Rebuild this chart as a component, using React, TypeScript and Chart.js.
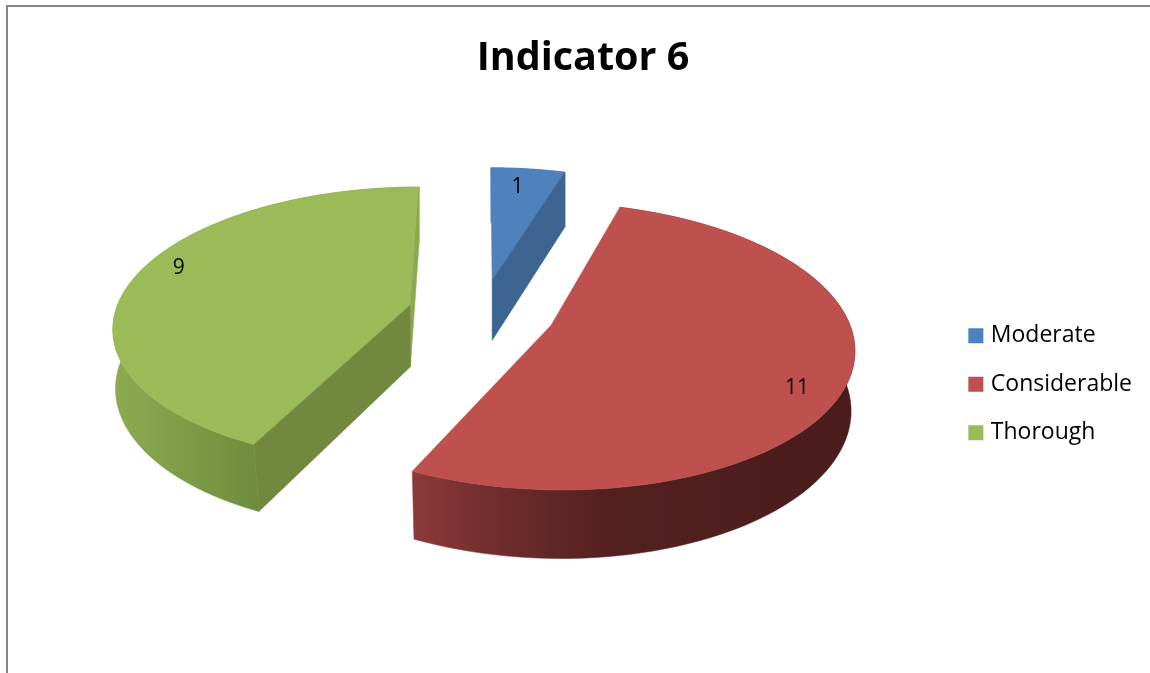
import React, { useEffect, useRef } from "react";
import { Chart, registerables } from "chart.js";

Chart.register(...registerables);

const TITLE = "Indicator 6";
const categories = ["Moderate", "Considerable", "Thorough"];
const values = [1, 11, 9];
const topColors = ["#4f81bd", "#be504e", "#9bbb59"];
const startFaceColors = [null, null, "#72883f"];
const endFaceColors = ["#3d6592", null, "#8ba94e"];
const labelRadii = [0.82, 0.866, 0.882];
const labelAngleShift = [-1.3, 7.4, 6.2];
const FONT = "'Open Sans', sans-serif";

// Perspective view of the exploded pie, in canvas pixels
const view = { cx: 457.5, cy: 307.6, a: 295, b: 137, k: 0.144, explode: 0.25 };

type Pt = [number, number];
const project = (u: number, v: number): Pt => {
  const f = 1 / (1 - view.k * v);
  return [view.cx + view.a * u * f, view.cy + view.b * v * f];
};
const lower = (u: number, v: number): Pt => {
  const [x, y] = project(u, v);
  return [view.cx + (x - view.cx) * Math.min(1, 0.995 - 0.02 * v), y + 62 + 6 * v];
};
const fillPoly = (ctx: CanvasRenderingContext2D, pts: Pt[], fill: string | CanvasGradient) => {
  ctx.beginPath();
  pts.forEach(([x, y], i) => (i ? ctx.lineTo(x, y) : ctx.moveTo(x, y)));
  ctx.closePath();
  ctx.fillStyle = fill;
  ctx.fill();
  ctx.strokeStyle = fill;
  ctx.lineWidth = 0.5;
  ctx.stroke();
};

const pie3d = {
  id: "pie3d",
  beforeDatasetsDraw(chart: any) {
    const ctx: CanvasRenderingContext2D = chart.ctx;
    const arcs = chart.getDatasetMeta(0).data;
    const rimFill = (i: number) => {
      if (i === 1) {
        const g = ctx.createLinearGradient(389, 0, 833, 0);
        g.addColorStop(0, "#8b3a39");
        g.addColorStop(0.25, "#672a29");
        g.addColorStop(0.45, "#53201f");
        g.addColorStop(1, "#4a1c1c");
        return g;
      }
      if (i === 2) {
        const g = ctx.createLinearGradient(93, 0, 233, 0);
        g.addColorStop(0, "#8cab50");
        g.addColorStop(1, "#6f8c3d");
        return g;
      }
      return topColors[i];
    };
    arcs.forEach((arc: any, i: number) => {
      const { startAngle: s, endAngle: e } = arc;
      const mid = (s + e) / 2;
      const ax = view.explode * Math.cos(mid);
      const ay = view.explode * Math.sin(mid);
      const rimWorld: Pt[] = [];
      const n = 90;
      for (let j = 0; j <= n; j++) {
        const t = s + ((e - s) * j) / n;
        rimWorld.push([ax + Math.cos(t), ay + Math.sin(t)]);
      }
      const first = rimWorld[0];
      const last = rimWorld[n];
      // outer wall
      fillPoly(
        ctx,
        [...rimWorld.map(([u, v]) => project(u, v)), ...rimWorld.slice().reverse().map(([u, v]) => lower(u, v))],
        rimFill(i)
      );
      // top surface
      fillPoly(ctx, [project(ax, ay), ...rimWorld.map(([u, v]) => project(u, v))], topColors[i]);
      // visible cut faces
      const face = (p: Pt, color: string | null) => {
        if (color) fillPoly(ctx, [project(ax, ay), project(p[0], p[1]), lower(p[0], p[1]), lower(ax, ay)], color);
      };
      face(last, endFaceColors[i]);
      face(first, startFaceColors[i]);
    });
    // value labels
    ctx.font = `21px ${FONT}`;
    ctx.fillStyle = "#000000";
    ctx.textAlign = "center";
    ctx.textBaseline = "middle";
    arcs.forEach((arc: any, i: number) => {
      const mid = (arc.startAngle + arc.endAngle) / 2;
      const t = mid + (labelAngleShift[i] * Math.PI) / 180;
      const u = view.explode * Math.cos(mid) + labelRadii[i] * Math.cos(t);
      const v = view.explode * Math.sin(mid) + labelRadii[i] * Math.sin(t);
      const [x, y] = project(u, v);
      ctx.fillText(String(values[i]), x, y);
    });
    return false;
  },
};

export default function App() {
  const ref = useRef<HTMLCanvasElement>(null);
  useEffect(() => {
    const chart = new Chart(ref.current as HTMLCanvasElement, {
      type: "pie",
      data: {
        labels: categories,
        datasets: [{ data: values, backgroundColor: topColors, borderWidth: 0 }],
      },
      options: {
        responsive: false,
        animation: false,
        events: [],
        layout: { padding: { right: 8, bottom: 40 } },
        plugins: {
          tooltip: { enabled: false },
          title: {
            display: true,
            text: TITLE,
            color: "#000000",
            font: { family: FONT, size: 39.5, weight: "bold" },
            padding: { top: 30, bottom: 53 },
          },
          legend: {
            display: true,
            position: "right",
            fullSize: false,
            labels: {
              boxWidth: 7,
              boxHeight: 7,
              padding: 25.5,
              color: "#000000",
              font: { family: FONT, size: 23 },
              generateLabels: (c: any) =>
                (Chart as any).overrides.doughnut.plugins.legend.labels
                  .generateLabels(c)
                  .map((item: any, i: number) => ({ ...item, lineWidth: 8, strokeStyle: topColors[i], fillStyle: topColors[i] })),
            },
          },
        },
      },
      plugins: [pie3d],
    } as any);
    return () => chart.destroy();
  }, []);
  return (
    <div style={{ position: "absolute", left: 0, top: 0, width: 1150, height: 673, overflow: "hidden", background: "#fff" }}>
      <div style={{ position: "absolute", left: 6, top: 5, width: 2000, height: 2000, borderLeft: "2px solid #868686", borderTop: "2px solid #868686" }} />
      <canvas ref={ref} width={1126} height={668} style={{ position: "absolute", left: 24, top: 5 }} />
    </div>
  );
}
